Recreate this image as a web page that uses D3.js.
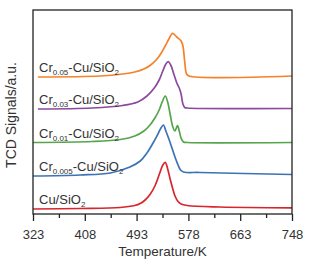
<!DOCTYPE html>
<html>
<head>
<meta charset="utf-8">
<script src="https://cdn.jsdelivr.net/npm/d3@7"></script>
<style>
  body { margin: 0; background: #fff; }
  text { font-family: Arial, "Liberation Sans", sans-serif; fill: #333; }
</style>
</head>
<body>
<div id="chart"></div>
<script>
// temperature (K) / TCD signal (a.u.)
const cuSiO2 = [[323,0.5],[400,0.55],[466,0.65],[490,0.85],[499,1.05],[507,1.4],[515,1.95],[523,2.8],[531,4.1],[536,4.9],[540,5.17],[544,4.5],[548,3.5],[552,2.6],[556,1.8],[561,1.25],[566,1.0],[576,0.85],[630,0.7],[748,0.62]];
const cr0005 = [[323,3.8],[400,3.9],[450,4.1],[482,4.7],[499,5.3],[510,6.1],[520,7.1],[528,8.0],[533,8.6],[537,8.9],[541,8.3],[546,7.5],[551,6.6],[556,5.7],[561,4.9],[565,4.4],[570,4.2],[597,4.15],[748,3.95]];
const cr001 = [[323,7.15],[420,7.25],[466,7.45],[490,7.8],[505,8.3],[515,8.9],[523,9.6],[530,10.4],[535,11.2],[540,11.8],[544,11.2],[548,10.0],[552,8.8],[556,8.3],[560,8.85],[563,8.3],[566,7.6],[570,7.2],[576,7.15],[748,7.15]];
const cr003 = [[331,10.5],[420,10.6],[470,10.85],[495,11.2],[510,11.8],[522,12.6],[530,13.4],[536,14.3],[541,15.0],[545,15.23],[549,14.9],[554,14.0],[559,13.1],[563,12.6],[566,12.0],[569,11.0],[572,10.65],[576,10.6],[748,10.55]];
const cr005 = [[331,13.7],[433,13.8],[470,14.0],[490,14.2],[505,14.5],[515,14.85],[525,15.4],[533,16.05],[540,16.8],[546,17.5],[552,18.07],[559,17.7],[566,17.3],[569,16.8],[572,15.2],[575,14.0],[579,13.8],[748,13.8]];

const seriesNames = [["Cu/SiO", "2"], ["Cr", "0.005", "-Cu/SiO", "2"], ["Cr", "0.01", "-Cu/SiO", "2"], ["Cr", "0.03", "-Cu/SiO", "2"], ["Cr", "0.05", "-Cu/SiO", "2"]];
const seriesData = [cuSiO2, cr0005, cr001, cr003, cr005];
const seriesColors = ["#d7262b", "#3c73b5", "#55a54b", "#8b4a9c", "#f5822a"];
const xTicks = [323, 408, 493, 578, 663, 748];

const W = 323, H = 268;
const margin = { top: 10, right: 31, bottom: 54, left: 33 };
const width = W - margin.left - margin.right;
const height = H - margin.top - margin.bottom;

const svg = d3.select("#chart").append("svg")
  .attr("width", W)
  .attr("height", H)
  .append("g")
  .attr("transform", `translate(${margin.left},${margin.top})`);

const x = d3.scaleLinear().domain([323, 748]).range([0, width]);
const y = d3.scaleLinear().domain([0, 20.4]).range([height, 0]);

const line = d3.line()
  .x(d => x(d[0]))
  .y(d => y(d[1]))
  .curve(d3.curveCatmullRom.alpha(0.5));

seriesData.forEach((s, i) => {
  svg.append("path")
    .datum(s)
    .attr("d", line)
    .attr("fill", "none")
    .attr("stroke", seriesColors[i])
    .attr("stroke-width", 1.7)
    .attr("stroke-linejoin", "round");
});

// labels with subscripts
seriesNames.forEach((parts, i) => {
  const t = svg.append("text")
    .attr("x", 6)
    .attr("y", y(seriesData[i][0][1]) - 5)
    .style("font-size", "13px");
  parts.forEach((p, j) => {
    const sub = (parts.length === 2 ? j === 1 : (j === 1 || j === 3));
    t.append("tspan")
      .text(p)
      .attr("dy", sub ? 3 : (j > 0 ? -3 : 0))
      .style("font-size", sub ? "8px" : "13px");
  });
});

// frame
svg.append("rect")
  .attr("width", width)
  .attr("height", height)
  .attr("fill", "none")
  .attr("stroke", "#222")
  .attr("stroke-width", 1.3);

// bottom axis: major + minor ticks
const xAxis = d3.axisBottom(x).tickValues(xTicks).tickSize(7).tickFormat(d3.format("d"));
const gx = svg.append("g")
  .attr("transform", `translate(0,${height})`)
  .call(xAxis);
gx.select(".domain").remove();
gx.selectAll("line").attr("stroke", "#222").attr("stroke-width", 1.3);
gx.selectAll("text").style("font-size", "13px").attr("dy", "1.15em").attr("fill", "#333");

const minor = xTicks.slice(1).map((v, i) => (v + xTicks[i]) / 2);
const gm = svg.append("g")
  .attr("transform", `translate(0,${height})`)
  .call(d3.axisBottom(x).tickValues(minor).tickSize(4).tickFormat(""));
gm.select(".domain").remove();
gm.selectAll("line").attr("stroke", "#222").attr("stroke-width", 1.3);

svg.append("text")
  .attr("x", width / 2)
  .attr("y", height + 42)
  .attr("text-anchor", "middle")
  .style("font-size", "13.5px")
  .text("Temperature/K");

svg.append("text")
  .attr("transform", `translate(${-17},${height / 2 + 3}) rotate(-90)`)
  .attr("text-anchor", "middle")
  .style("font-size", "14px")
  .text("TCD Signals/a.u.");
</script>
</body>
</html>
